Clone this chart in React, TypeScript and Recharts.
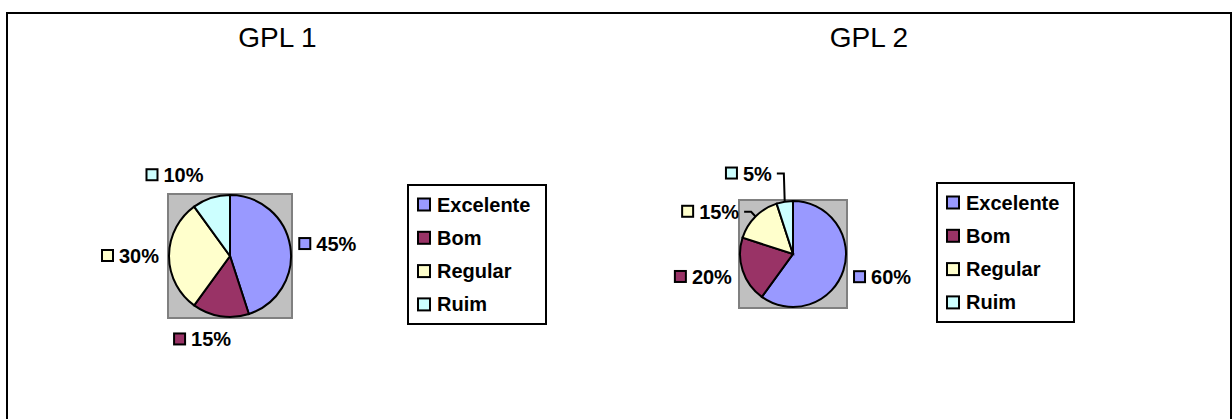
import React from 'react';
import { PieChart, Pie, Cell, Customized } from 'recharts';

// ---- data ----
const categories = ['Excelente', 'Bom', 'Regular', 'Ruim'];
const gpl1Values = [45, 15, 30, 10];
const gpl2Values = [60, 20, 15, 5];
const chartTitles = ['GPL 1', 'GPL 2'];
const colors = ['#9999FF', '#993366', '#FFFFCC', '#CCFFFF'];

const gpl1Data = categories.map((name, i) => ({ name, value: gpl1Values[i] }));
const gpl2Data = categories.map((name, i) => ({ name, value: gpl2Values[i] }));
const datasets = [gpl1Data, gpl2Data];

// ---- layout (positions / styles only) ----
const FONT = '"Liberation Sans", Arial, Helvetica, sans-serif';
const W = 1232;
const H = 419;
const layout = [
  {
    cx: 230, cy: 256, r: 61, titleX: 277.5, legendX: 408, legendY: 185, legendW: 138, gap: 37,
    nudges: [{ da: -2, dr: 0 }, { da: -9.5, dr: -10 }, { da: 0, dr: 2 }, { da: 16.5, dr: 0 }],
    leaders: [false, false, false, false],
  },
  {
    cx: 793, cy: 254, r: 53, titleX: 869, legendX: 937, legendY: 183, legendW: 137, gap: 39,
    nudges: [{ da: 3.4, dr: 0 }, { da: -3.7, dr: 1 }, { da: 18, dr: 1 }, { da: 20, dr: 0 }],
    leaders: [false, false, true, true],
  },
];

const RAD = Math.PI / 180;

const textWidth = (s: string) => {
  let w = 0;
  for (const ch of s) w += ch === '%' ? 17.8 : 11.1;
  return w;
};

const makeLabel = (k: number) => (props: any) => {
  const { cx, cy, midAngle, outerRadius, name, value } = props;
  const idx = categories.indexOf(name);
  const cfg = layout[k];
  const nudge = cfg.nudges[idx] || { da: 0, dr: 0 };
  const a = (midAngle + nudge.da) * RAD;
  const d = outerRadius + cfg.gap + nudge.dr;
  const lx = cx + d * Math.cos(a);
  const ly = cy - d * Math.sin(a);
  const text = `${value}%`;
  const tw = textWidth(text);
  const w = 13 + 5 + tw;
  const left = lx - w / 2;
  const right = left + w;
  const ma = midAngle * RAD;
  const ex = cx + outerRadius * Math.cos(ma);
  const ey = cy - outerRadius * Math.sin(ma);
  return (
    <g>
      <rect x={left + 1} y={ly - 6} width={11} height={11} fill={colors[idx]} stroke="#000" strokeWidth={2} />
      <text x={left + 18} y={ly + 7} fontFamily={FONT} fontSize={20} fontWeight="bold" fill="#000">
        {text}
      </text>
      {cfg.leaders[idx] && (
        <path d={`M${right + 5},${ly} H${right + 12} L${ex},${ey}`} fill="none" stroke="#000" strokeWidth={2} />
      )}
    </g>
  );
};

const Decorations = () => (
  <g>
    <rect x={7} y={13} width={W - 8} height={H + 20} fill="none" stroke="#000" strokeWidth={2} />
    {layout.map((cfg, k) => (
      <g key={k}>
        <text x={cfg.titleX} y={47} textAnchor="middle" fontFamily={FONT} fontSize={28} fill="#000">
          {chartTitles[k]}
        </text>
        <rect
          x={cfg.cx - cfg.r - 1}
          y={cfg.cy - cfg.r - 1}
          width={cfg.r * 2 + 2}
          height={cfg.r * 2 + 2}
          fill="#C0C0C0"
          stroke="#808080"
          strokeWidth={2}
        />
        <rect x={cfg.legendX} y={cfg.legendY} width={cfg.legendW} height={139} fill="#fff" stroke="#000" strokeWidth={2} />
        {categories.map((c, i) => {
          const rowY = cfg.legendY + 19.5 + i * 33.3;
          return (
            <g key={c}>
              <rect x={cfg.legendX + 10} y={rowY - 6} width={12} height={12} fill={colors[i]} stroke="#000" strokeWidth={2} />
              <text x={cfg.legendX + 29} y={rowY + 7} fontFamily={FONT} fontSize={20} fontWeight="bold" fill="#000">
                {c}
              </text>
            </g>
          );
        })}
      </g>
    ))}
  </g>
);

export default function App() {
  return (
    <div style={{ position: 'absolute', left: 0, top: 0, width: W, height: H, background: '#fff' }}>
      <PieChart width={W} height={H} margin={{ top: 0, right: 0, bottom: 0, left: 0 }}>
        <Customized component={Decorations} />
        {datasets.map((data, k) => (
          <Pie
            key={k}
            data={data}
            dataKey="value"
            nameKey="name"
            cx={layout[k].cx}
            cy={layout[k].cy}
            outerRadius={layout[k].r}
            startAngle={90}
            endAngle={-270}
            stroke="#000"
            strokeWidth={2}
            label={makeLabel(k)}
            labelLine={false}
            isAnimationActive={false}
          >
            {data.map((d, i) => (
              <Cell key={d.name} fill={colors[i]} />
            ))}
          </Pie>
        ))}
      </PieChart>
    </div>
  );
}
